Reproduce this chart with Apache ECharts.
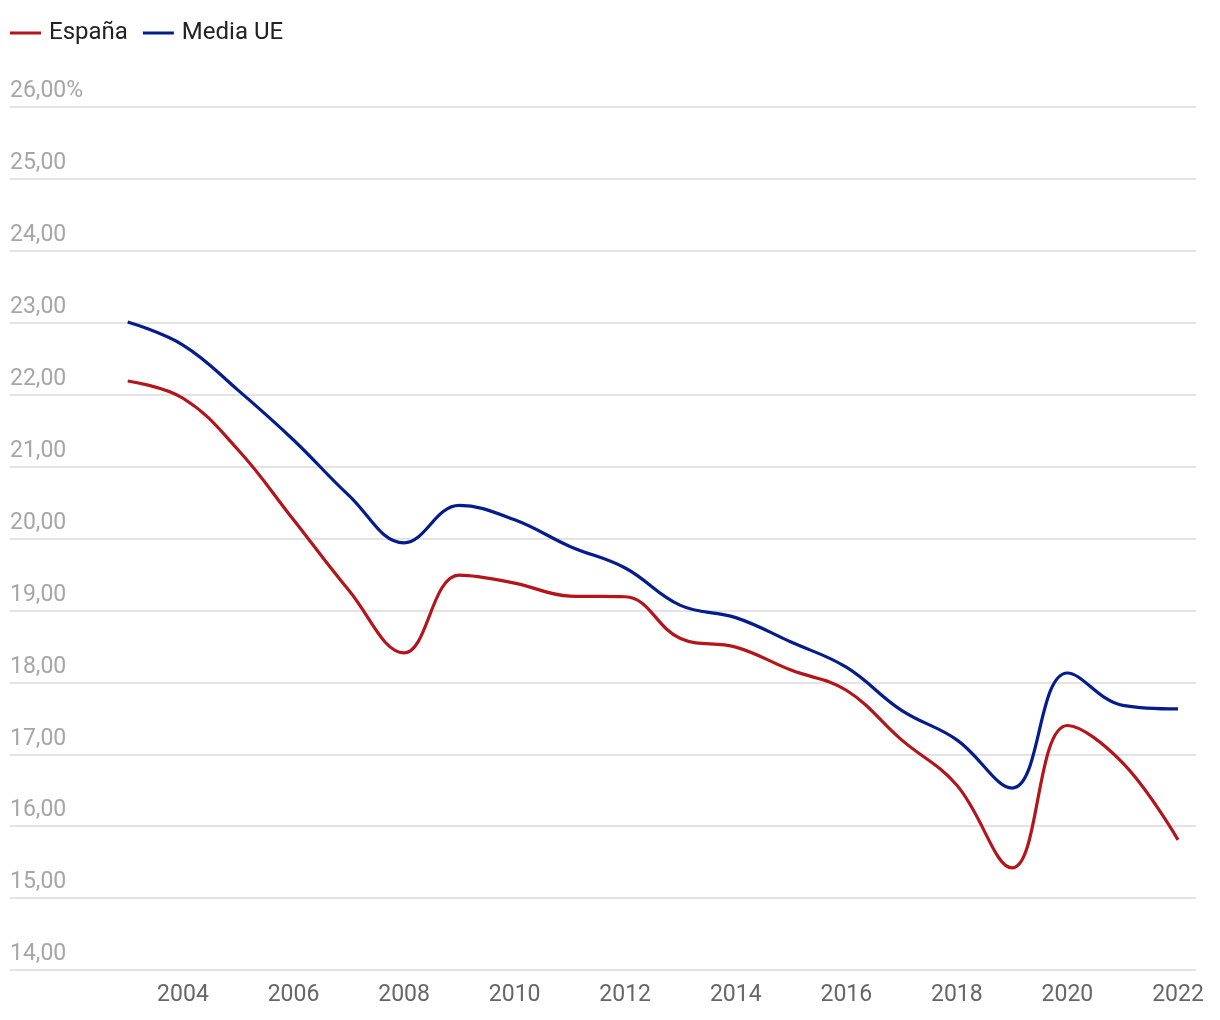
<!DOCTYPE html>
<html>
<head>
<meta charset="utf-8">
<script src="https://cdn.jsdelivr.net/npm/echarts@6/dist/echarts.min.js"></script>
<style>
html,body{margin:0;padding:0;background:#fff;}
#chart{width:1220px;height:1020px;}
</style>
</head>
<body>
<div id="chart"></div>
<script>
const years = [2003,2004,2005,2006,2007,2008,2009,2010,2011,2012,2013,2014,2015,2016,2017,2018,2019,2020,2021,2022];
const espana = [22.19,21.95,21.23,20.26,19.28,18.41,19.49,19.38,19.20,19.19,18.61,18.49,18.17,17.89,17.20,16.57,15.42,17.40,16.88,15.81];
const mediaUE = [23.01,22.69,22.06,21.37,20.60,19.94,20.46,20.26,19.89,19.59,19.07,18.90,18.56,18.21,17.61,17.20,16.53,18.13,17.68,17.63];
const xTickLabels = [2004,2006,2008,2010,2012,2014,2016,2018,2020,2022];
const yMin = 14, yMax = 26, yStep = 1;

const chart = echarts.init(document.getElementById('chart'));
const font = 'Roboto, "Noto Sans", sans-serif';
chart.setOption({
  animation: false,
  textStyle: { fontFamily: font },
  legend: {
    left: 10, top: 21, padding: 0,
    itemWidth: 31, itemHeight: 3, itemGap: 15,
    icon: 'rect',
    textStyle: { fontSize: 24, color: '#222', fontFamily: font, padding: [0, 0, 0, 3] },
    data: ['España', 'Media UE']
  },
  grid: { left: 10, right: 24, top: 107, bottom: 50, containLabel: false },
  xAxis: {
    type: 'value',
    min: 2000.871, max: 2022.326,
    axisLine: { show: false },
    axisTick: { show: false },
    splitLine: { show: false },
    axisLabel: {
      customValues: xTickLabels,
      formatter: v => String(Math.round(v)),
      color: '#666', fontSize: 23, margin: 14, fontFamily: font
    }
  },
  yAxis: {
    type: 'value',
    min: yMin, max: yMax, interval: yStep,
    axisLine: { show: false },
    axisTick: { show: false },
    splitLine: { lineStyle: { color: '#e3e3e3', width: 2 } },
    axisLabel: {
      inside: true, margin: 0,
      verticalAlign: 'bottom',
      padding: [0, 0, 4, 0],
      color: '#a6a6a6', fontSize: 23, fontFamily: font,
      formatter: v => v.toFixed(2).replace('.', ',') + (v === yMax ? '%' : '')
    }
  },
  series: [
    {
      name: 'España', type: 'line', smooth: 0.4, symbol: 'none',
      lineStyle: { color: '#B3151B', width: 3.2 }, itemStyle: { color: '#B3151B' },
      data: years.map((y, i) => [y, espana[i]])
    },
    {
      name: 'Media UE', type: 'line', smooth: 0.4, symbol: 'none',
      lineStyle: { color: '#041C8C', width: 3.2 }, itemStyle: { color: '#041C8C' },
      data: years.map((y, i) => [y, mediaUE[i]])
    }
  ]
});
</script>
</body>
</html>
